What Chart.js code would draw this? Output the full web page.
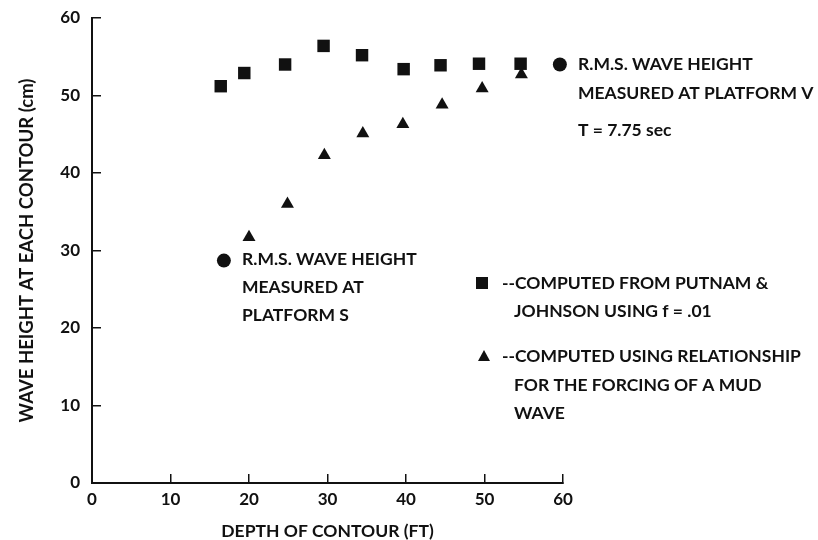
<!DOCTYPE html>
<html>
<head>
<meta charset="utf-8">
<style>
  html, body { margin: 0; padding: 0; background: #fff; }
  #wrap { width: 818px; height: 540px; }
</style>
<script src="https://cdn.jsdelivr.net/npm/chart.js@4/dist/chart.umd.min.js"></script>
</head>
<body>
<div id="wrap"><canvas id="wave-chart" width="818" height="540"></canvas></div>
<script>
// data
const squareDepth = [16.4, 19.4, 24.6, 29.5, 34.4, 39.7, 44.4, 49.3, 54.6];
const squareHeight = [51.2, 52.9, 54.0, 56.4, 55.2, 53.4, 53.9, 54.1, 54.1];
const triangleDepth = [20.0, 24.9, 29.6, 34.5, 39.6, 44.6, 49.7, 54.7];
const triangleHeight = [31.7, 36.0, 42.3, 45.1, 46.3, 48.8, 50.9, 52.7];
const measuredDepth = [16.8, 59.6];
const measuredHeight = [28.7, 54.0];
const xTicks = [0, 10, 20, 30, 40, 50, 60];
const yTicks = [0, 10, 20, 30, 40, 50, 60];

const ink = '#111';
const fontFamily = 'Lato, "DejaVu Sans", sans-serif';

function toPoints(xs, ys) {
    return xs.map((x, i) => ({ x: x, y: ys[i] }));
}

// notes written inside the plot
const notes = [
    { text: 'R.M.S. WAVE HEIGHT', x: 578, y: 64 },
    { text: 'MEASURED AT PLATFORM V', x: 578, y: 93 },
    { text: 'T = 7.75 sec', x: 578, y: 130 },
    { text: 'R.M.S. WAVE HEIGHT', x: 242, y: 259 },
    { text: 'MEASURED AT', x: 242, y: 287 },
    { text: 'PLATFORM S', x: 242, y: 315 },
    { text: '--COMPUTED FROM PUTNAM &', x: 502, y: 283 },
    { text: 'JOHNSON USING f = .01', x: 514, y: 311 },
    { text: '--COMPUTED USING RELATIONSHIP', x: 502, y: 356 },
    { text: 'FOR THE FORCING OF A MUD', x: 514, y: 385 },
    { text: 'WAVE', x: 514, y: 413 }
];

const notesPlugin = {
    id: 'notes',
    afterDatasetsDraw(chart) {
        const c = chart.ctx;
        c.save();
        c.fillStyle = ink;
        c.font = 'bold 17.5px ' + fontFamily;
        c.textBaseline = 'middle';
        c.textAlign = 'left';
        notes.forEach(n => c.fillText(n.text, n.x, n.y));
        // legend keys
        c.fillRect(476, 277, 12, 12);
        c.beginPath();
        c.moveTo(484, 350);
        c.lineTo(490, 361);
        c.lineTo(478, 361);
        c.closePath();
        c.fill();
        c.restore();
    }
};

const ctx = document.getElementById('wave-chart');

const data = {
    datasets: [{
        label: 'computed (Putnam & Johnson)',
        data: toPoints(squareDepth, squareHeight),
        pointStyle: 'rect',
        pointRadius: 8.8,
        backgroundColor: ink,
        borderColor: ink,
        borderWidth: 0,
        clip: false
    }, {
        label: 'computed (mud wave)',
        data: toPoints(triangleDepth, triangleHeight),
        pointStyle: 'triangle',
        pointRadius: 7.5,
        backgroundColor: ink,
        borderColor: ink,
        borderWidth: 0,
        clip: false
    }, {
        label: 'measured',
        data: toPoints(measuredDepth, measuredHeight),
        pointStyle: 'circle',
        pointRadius: 7,
        backgroundColor: ink,
        borderColor: ink,
        borderWidth: 0,
        clip: false
    }]
};

const config = {
    type: 'scatter',
    data: data,
    options: {
        responsive: false,
        animation: false,
        layout: {
            padding: { top: 18, right: 255, left: 0, bottom: 0 }
        },
        plugins: {
            legend: { display: false },
            tooltip: { enabled: false }
        },
        scales: {
            x: {
                type: 'linear',
                min: 0,
                max: 60,
                afterBuildTicks: scale => { scale.ticks = xTicks.map(v => ({ value: v })); },
                grid: { drawOnChartArea: false, drawTicks: true, tickLength: -9, color: ink, lineWidth: 1.5 },
                border: { display: true, color: ink, width: 2 },
                ticks: { color: ink, padding: 15, font: { family: fontFamily, size: 17, weight: 'bold' } },
                title: {
                    display: true,
                    text: 'DEPTH OF CONTOUR (FT)',
                    color: ink,
                    padding: { top: 0, bottom: 0 },
                    font: { family: fontFamily, size: 17.5, weight: 'bold', lineHeight: 1 }
                },
                afterFit: scale => { scale.height = 57; }
            },
            y: {
                type: 'linear',
                min: 0,
                max: 60,
                afterBuildTicks: scale => { scale.ticks = yTicks.map(v => ({ value: v })); },
                grid: { drawOnChartArea: false, drawTicks: true, tickLength: -9, color: ink, lineWidth: 1.5 },
                border: { display: true, color: ink, width: 2 },
                ticks: { color: ink, padding: 21, font: { family: fontFamily, size: 17, weight: 'bold' } },
                title: {
                    display: true,
                    text: 'WAVE HEIGHT AT EACH CONTOUR (cm)',
                    color: ink,
                    padding: { top: 16, bottom: 0 },
                    font: { family: fontFamily, size: 18.5, weight: 'bold' }
                },
                afterFit: scale => {
                    scale.width = 92;
                    scale.paddingTop = 0;
                    scale.paddingBottom = 0;
                }
            }
        }
    },
    plugins: [notesPlugin]
};

new Chart(ctx, config);
</script>
</body>
</html>
